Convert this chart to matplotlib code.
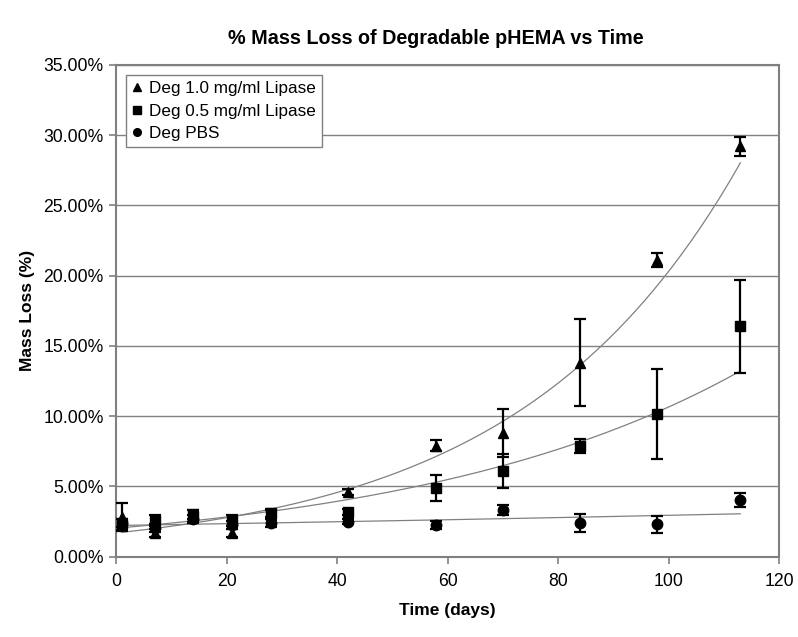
import numpy as np
import matplotlib
matplotlib.use("Agg")
import matplotlib.pyplot as plt
from matplotlib.lines import Line2D
from matplotlib.ticker import FuncFormatter

plt.rcParams["font.family"] = ["Liberation Sans", "DejaVu Sans"]

# data
days = [1, 7, 14, 21, 28, 42, 58, 70, 84, 98, 113]
lipase_10 = [2.8, 1.7, 3.0, 1.7, 3.0, 4.6, 7.9, 8.8, 13.8, 21.1, 29.2]
lipase_10_err = [1.0, 0.3, 0.3, 0.3, 0.3, 0.2, 0.4, 1.7, 3.1, 0.5, 0.7]
lipase_05 = [2.3, 2.6, 2.9, 2.6, 3.1, 3.2, 4.9, 6.1, 7.85, 10.15, 16.4]
lipase_05_err = [0.4, 0.4, 0.4, 0.4, 0.3, 0.2, 0.9, 1.2, 0.5, 3.2, 3.3]
pbs = [2.4, 2.05, 2.7, 2.25, 2.4, 2.5, 2.25, 3.3, 2.4, 2.3, 4.05]
pbs_err = [0.3, 0.3, 0.3, 0.3, 0.3, 0.2, 0.3, 0.35, 0.65, 0.6, 0.5]

series = [
    ("Deg 1.0 mg/ml Lipase", lipase_10, lipase_10_err, "^"),
    ("Deg 0.5 mg/ml Lipase", lipase_05, lipase_05_err, "s"),
    ("Deg PBS", pbs, pbs_err, "o"),
]

fig = plt.figure(figsize=(7.98, 6.37), dpi=100)
ax = fig.add_axes([0.1454, 0.126, 0.8308, 0.772])

x = np.array(days, dtype=float)
xs = np.linspace(x.min(), x.max(), 200)
handles = []
for label, y, err, m in series:
    ax.errorbar(x, y, yerr=err, fmt=m, color="black", ms=7.5, ecolor="black",
                elinewidth=1.6, capsize=4.5, capthick=1.6, zorder=3)
    # exponential trendline (Excel style: fit on log values)
    b, a = np.polyfit(x, np.log(y), 1)
    ax.plot(xs, np.exp(a) * np.exp(b * xs), color="#808080", lw=0.9, zorder=2)
    handles.append(Line2D([], [], ls="none", marker=m, color="black", ms=5.5, label=label))

ax.set_xlim(0, 120)
ax.set_ylim(0, 35)
ax.set_xticks(range(0, 121, 20))
ax.set_yticks(np.arange(0, 35.1, 5))
ax.yaxis.set_major_formatter(FuncFormatter(lambda v, p: f"{v:.2f}%"))
ax.grid(axis="y", color="#808080", lw=1.0)
ax.set_axisbelow(True)
for s in ax.spines.values():
    s.set_color("#808080")
    s.set_linewidth(1.5)
ax.tick_params(axis="both", colors="black", labelsize=12.7, length=5, color="#808080", width=1.2)
ax.tick_params(axis="x", pad=7)
ax.tick_params(axis="y", pad=4)

ax.set_xlabel("Time (days)", fontsize=12.5, fontweight="bold", labelpad=9)
ax.set_ylabel("Mass Loss (%)", fontsize=12.5, fontweight="bold", labelpad=6)
fig.suptitle("% Mass Loss of Degradable pHEMA vs Time", fontsize=14.2, fontweight="bold",
             x=0.546, y=0.955)

ax.legend(handles=handles, loc="upper left", bbox_to_anchor=(0.002, 0.997), fontsize=12.3,
          fancybox=False, framealpha=1, edgecolor="#808080", handlelength=0.6,
          handletextpad=0.4, borderpad=0.35, labelspacing=0.45)

fig.savefig("out.png", dpi=100)
